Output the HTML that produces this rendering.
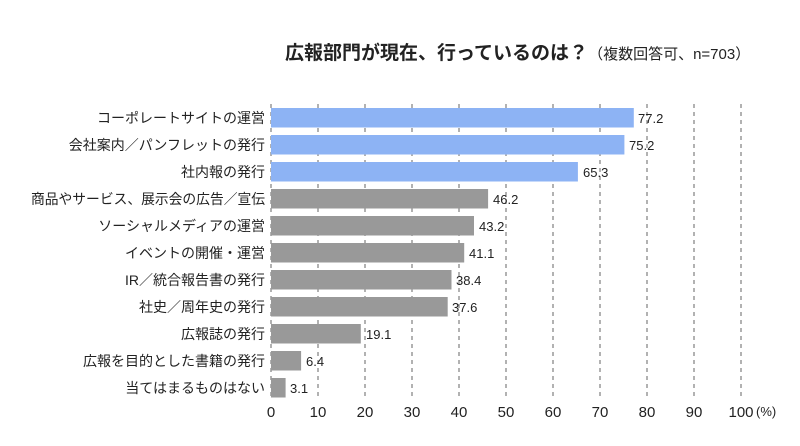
<!DOCTYPE html>
<html><head><meta charset="utf-8"><style>
body{margin:0;background:#fff}
svg text{font-family:"Liberation Sans","Noto Sans CJK JP",sans-serif;fill:#222}
</style></head><body>
<svg width="800" height="441" viewBox="0 0 800 441" xmlns="http://www.w3.org/2000/svg">
<text x="285" y="59" font-size="19" font-weight="bold">広報部門が現在、行っているのは？<tspan font-size="15" font-weight="normal">（複数回答可、n=703）</tspan></text>
<g stroke="#666" stroke-width="1" stroke-dasharray="4,4">
<line x1="271" y1="104" x2="271" y2="398"/><line x1="318" y1="104" x2="318" y2="398"/><line x1="365" y1="104" x2="365" y2="398"/><line x1="412" y1="104" x2="412" y2="398"/><line x1="459" y1="104" x2="459" y2="398"/><line x1="506" y1="104" x2="506" y2="398"/><line x1="553" y1="104" x2="553" y2="398"/><line x1="600" y1="104" x2="600" y2="398"/><line x1="647" y1="104" x2="647" y2="398"/><line x1="694" y1="104" x2="694" y2="398"/><line x1="741" y1="104" x2="741" y2="398"/>
</g>
<g font-size="15" text-anchor="middle">
<text x="271" y="417">0</text><text x="318" y="417">10</text><text x="365" y="417">20</text><text x="412" y="417">30</text><text x="459" y="417">40</text><text x="506" y="417">50</text><text x="553" y="417">60</text><text x="600" y="417">70</text><text x="647" y="417">80</text><text x="694" y="417">90</text><text x="741" y="417">100</text>
</g>
<text x="756" y="416" font-size="13">(%)</text>
<g>
<rect x="271" y="108" width="362.8" height="19.5" fill="#8db3f4"/>
<rect x="271" y="135" width="353.4" height="19.5" fill="#8db3f4"/>
<rect x="271" y="162" width="306.9" height="19.5" fill="#8db3f4"/>
<rect x="271" y="189" width="217.1" height="19.5" fill="#999"/>
<rect x="271" y="216" width="203" height="19.5" fill="#999"/>
<rect x="271" y="243" width="193.2" height="19.5" fill="#999"/>
<rect x="271" y="270" width="180.5" height="19.5" fill="#999"/>
<rect x="271" y="297" width="176.7" height="19.5" fill="#999"/>
<rect x="271" y="324" width="89.8" height="19.5" fill="#999"/>
<rect x="271" y="351" width="30.1" height="19.5" fill="#999"/>
<rect x="271" y="378" width="14.6" height="19.5" fill="#999"/>
</g>
<g font-size="13">
<text x="638" y="123">77.2</text><text x="629" y="150">75.2</text><text x="583" y="177">65.3</text><text x="493" y="204">46.2</text><text x="479" y="231">43.2</text><text x="469" y="258">41.1</text><text x="456" y="285">38.4</text><text x="452" y="312">37.6</text><text x="366" y="339">19.1</text><text x="306" y="366">6.4</text><text x="290" y="393">3.1</text>
</g>
<g font-size="14" text-anchor="end">
<text x="265" y="123">コーポレートサイトの運営</text>
<text x="265" y="150">会社案内／パンフレットの発行</text>
<text x="265" y="177">社内報の発行</text>
<text x="265" y="204" textLength="234" lengthAdjust="spacingAndGlyphs">商品やサービス、展示会の広告／宣伝</text>
<text x="265" y="231">ソーシャルメディアの運営</text>
<text x="265" y="258">イベントの開催・運営</text>
<text x="265" y="285">IR／統合報告書の発行</text>
<text x="265" y="312">社史／周年史の発行</text>
<text x="265" y="339">広報誌の発行</text>
<text x="265" y="366">広報を目的とした書籍の発行</text>
<text x="265" y="393">当てはまるものはない</text>
</g>
</svg>
</body></html>
